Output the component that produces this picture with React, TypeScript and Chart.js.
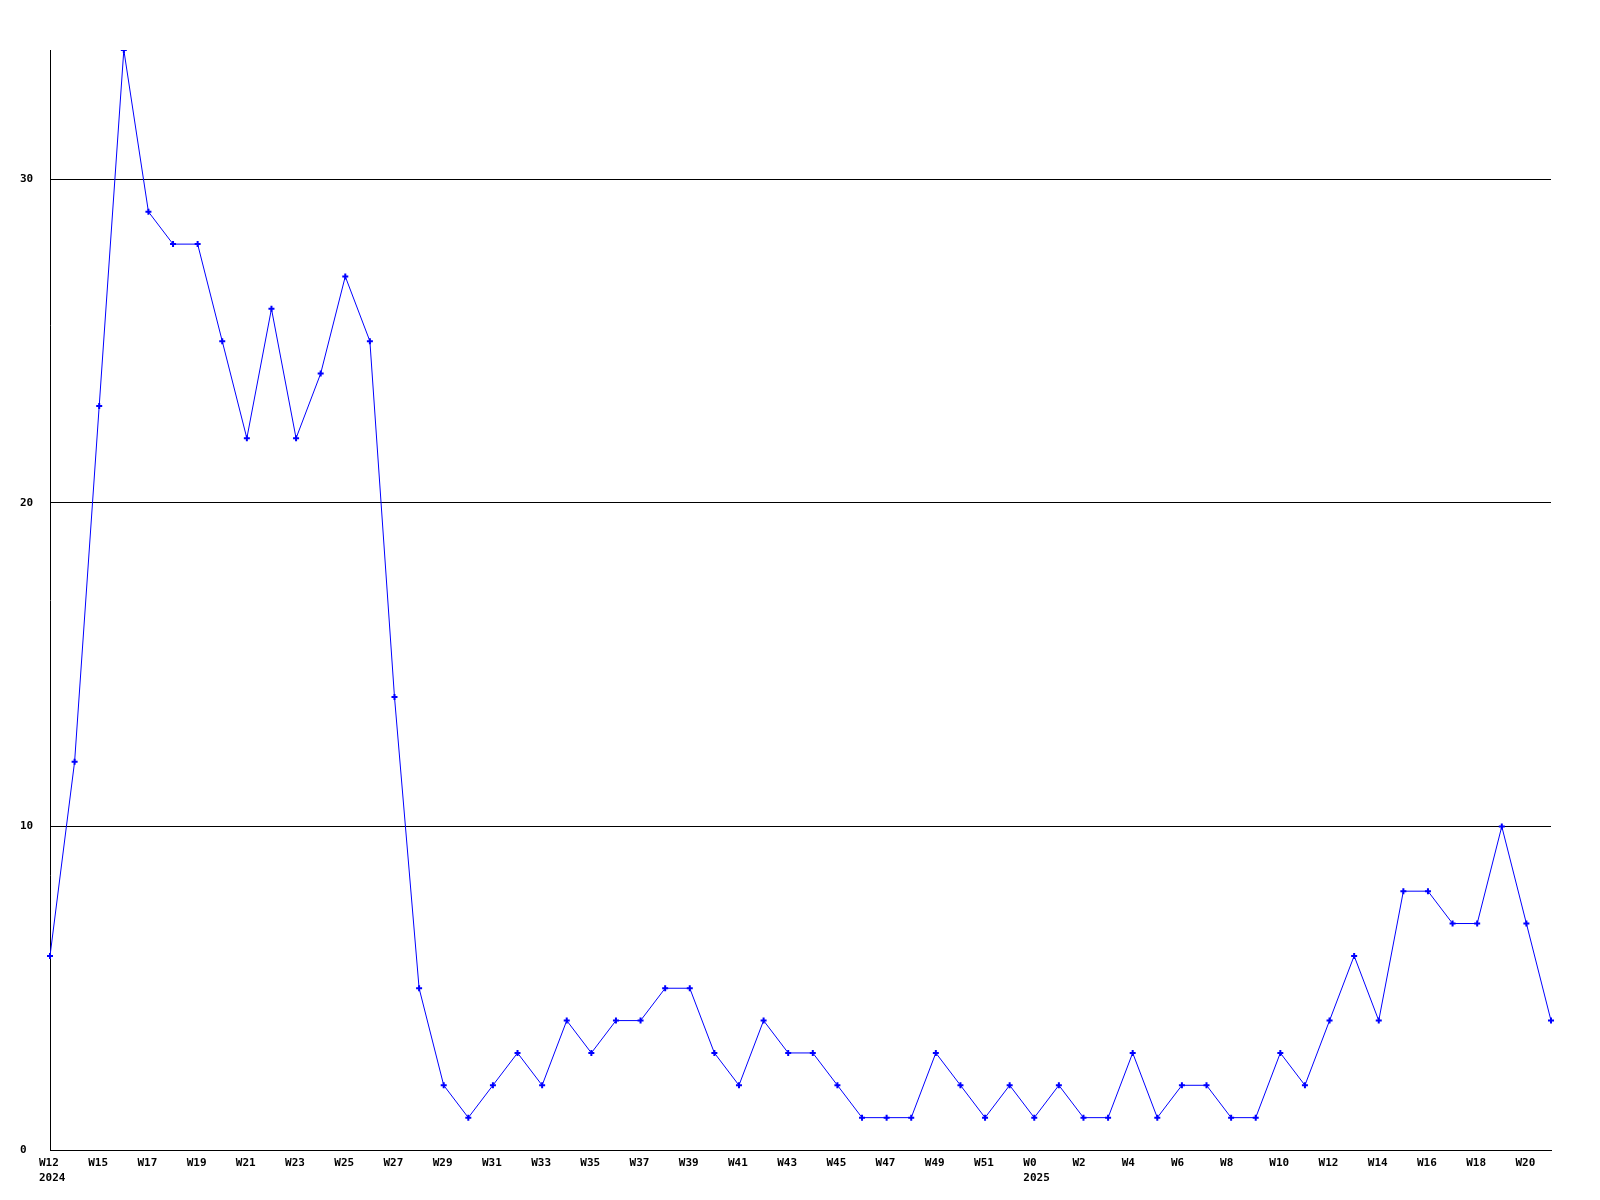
import React, { useEffect, useRef } from "react";
import { Chart, registerables } from "chart.js";

Chart.register(...registerables);

const weekLabels: string[] = [
  "W12", "W14", "W15", "W16", "W17", "W18", "W19", "W20", "W21", "W22",
  "W23", "W24", "W25", "W26", "W27", "W28", "W29", "W30", "W31", "W32",
  "W33", "W34", "W35", "W36", "W37", "W38", "W39", "W40", "W41", "W42",
  "W43", "W44", "W45", "W46", "W47", "W48", "W49", "W50", "W51", "W52",
  "W0", "W1", "W2", "W3", "W4", "W5", "W6", "W7", "W8", "W9",
  "W10", "W11", "W12", "W13", "W14", "W15", "W16", "W17", "W18", "W19",
  "W20", "W21",
];

const yearLabels: string[] = weekLabels.map((_, i) => (i === 0 ? "2024" : i === 40 ? "2025" : ""));

const counts: number[] = [
  6, 12, 23, 34, 29, 28, 28, 25, 22, 26,
  22, 24, 27, 25, 14, 5, 2, 1, 2, 3,
  2, 4, 3, 4, 4, 5, 5, 3, 2, 4,
  3, 3, 2, 1, 1, 1, 3, 2, 1, 2,
  1, 2, 1, 1, 3, 1, 2, 2, 1, 1,
  3, 2, 4, 6, 4, 8, 8, 7, 7, 10,
  7, 4,
];

const yTicks: number[] = [0, 10, 20, 30];
const yMax = 34;

export default function App() {
  const ref = useRef<HTMLCanvasElement | null>(null);

  useEffect(() => {
    if (!ref.current) return;
    const font = { family: "'DejaVu Sans Mono', monospace", size: 11, weight: "bold" as const };
    const chart = new Chart(ref.current, {
      type: "line",
      data: {
        labels: weekLabels,
        datasets: [
          {
            data: counts,
            borderColor: "#0000ff",
            backgroundColor: "#0000ff",
            borderWidth: 1,
            pointStyle: "cross",
            pointRadius: 3,
            pointBorderWidth: 2,
            pointBorderColor: "#0000ff",
            tension: 0,
            fill: false,
          },
        ],
      },
      options: {
        responsive: false,
        animation: false,
        devicePixelRatio: 1,
        layout: { padding: { top: 50, right: 49, left: 20, bottom: 0 } },
        plugins: {
          legend: { display: false },
          tooltip: { enabled: false },
          title: { display: false },
        },
        scales: {
          x: {
            type: "category",
            offset: false,
            grid: { display: true, drawOnChartArea: false, drawTicks: false },
            border: { display: true, color: "#000000", width: 1 },
            afterFit: (scale: any) => {
              scale.height = 50;
            },
            ticks: {
              autoSkip: false,
              maxRotation: 0,
              minRotation: 0,
              padding: 5,
              align: "start",
              labelOffset: -11,
              color: "#000000",
              font: { ...font, lineHeight: 15.5 / 11 },
              callback: (_v: any, i: number) => {
                if (i % 2 !== 0) return "";
                return yearLabels[i] ? [weekLabels[i], yearLabels[i]] : weekLabels[i];
              },
            },
          },
          y: {
            min: 0,
            max: yMax,
            afterBuildTicks: (scale: any) => {
              scale.ticks = yTicks.map((v) => ({ value: v }));
            },
            afterFit: (scale: any) => {
              scale.width = 30;
            },
            grid: { display: true, color: "#000000", lineWidth: 1, drawTicks: false },
            border: { display: true, color: "#000000", width: 1 },
            ticks: {
              crossAlign: "far",
              padding: 0,
              color: "#000000",
              font,
            },
          },
        },
      },
    });
    return () => chart.destroy();
  }, []);

  return (
    <div style={{ position: "fixed", left: 0, top: 0, width: 1600, height: 1200, background: "#ffffff" }}>
      <canvas ref={ref} width={1600} height={1200} style={{ width: 1600, height: 1200 }} />
    </div>
  );
}
